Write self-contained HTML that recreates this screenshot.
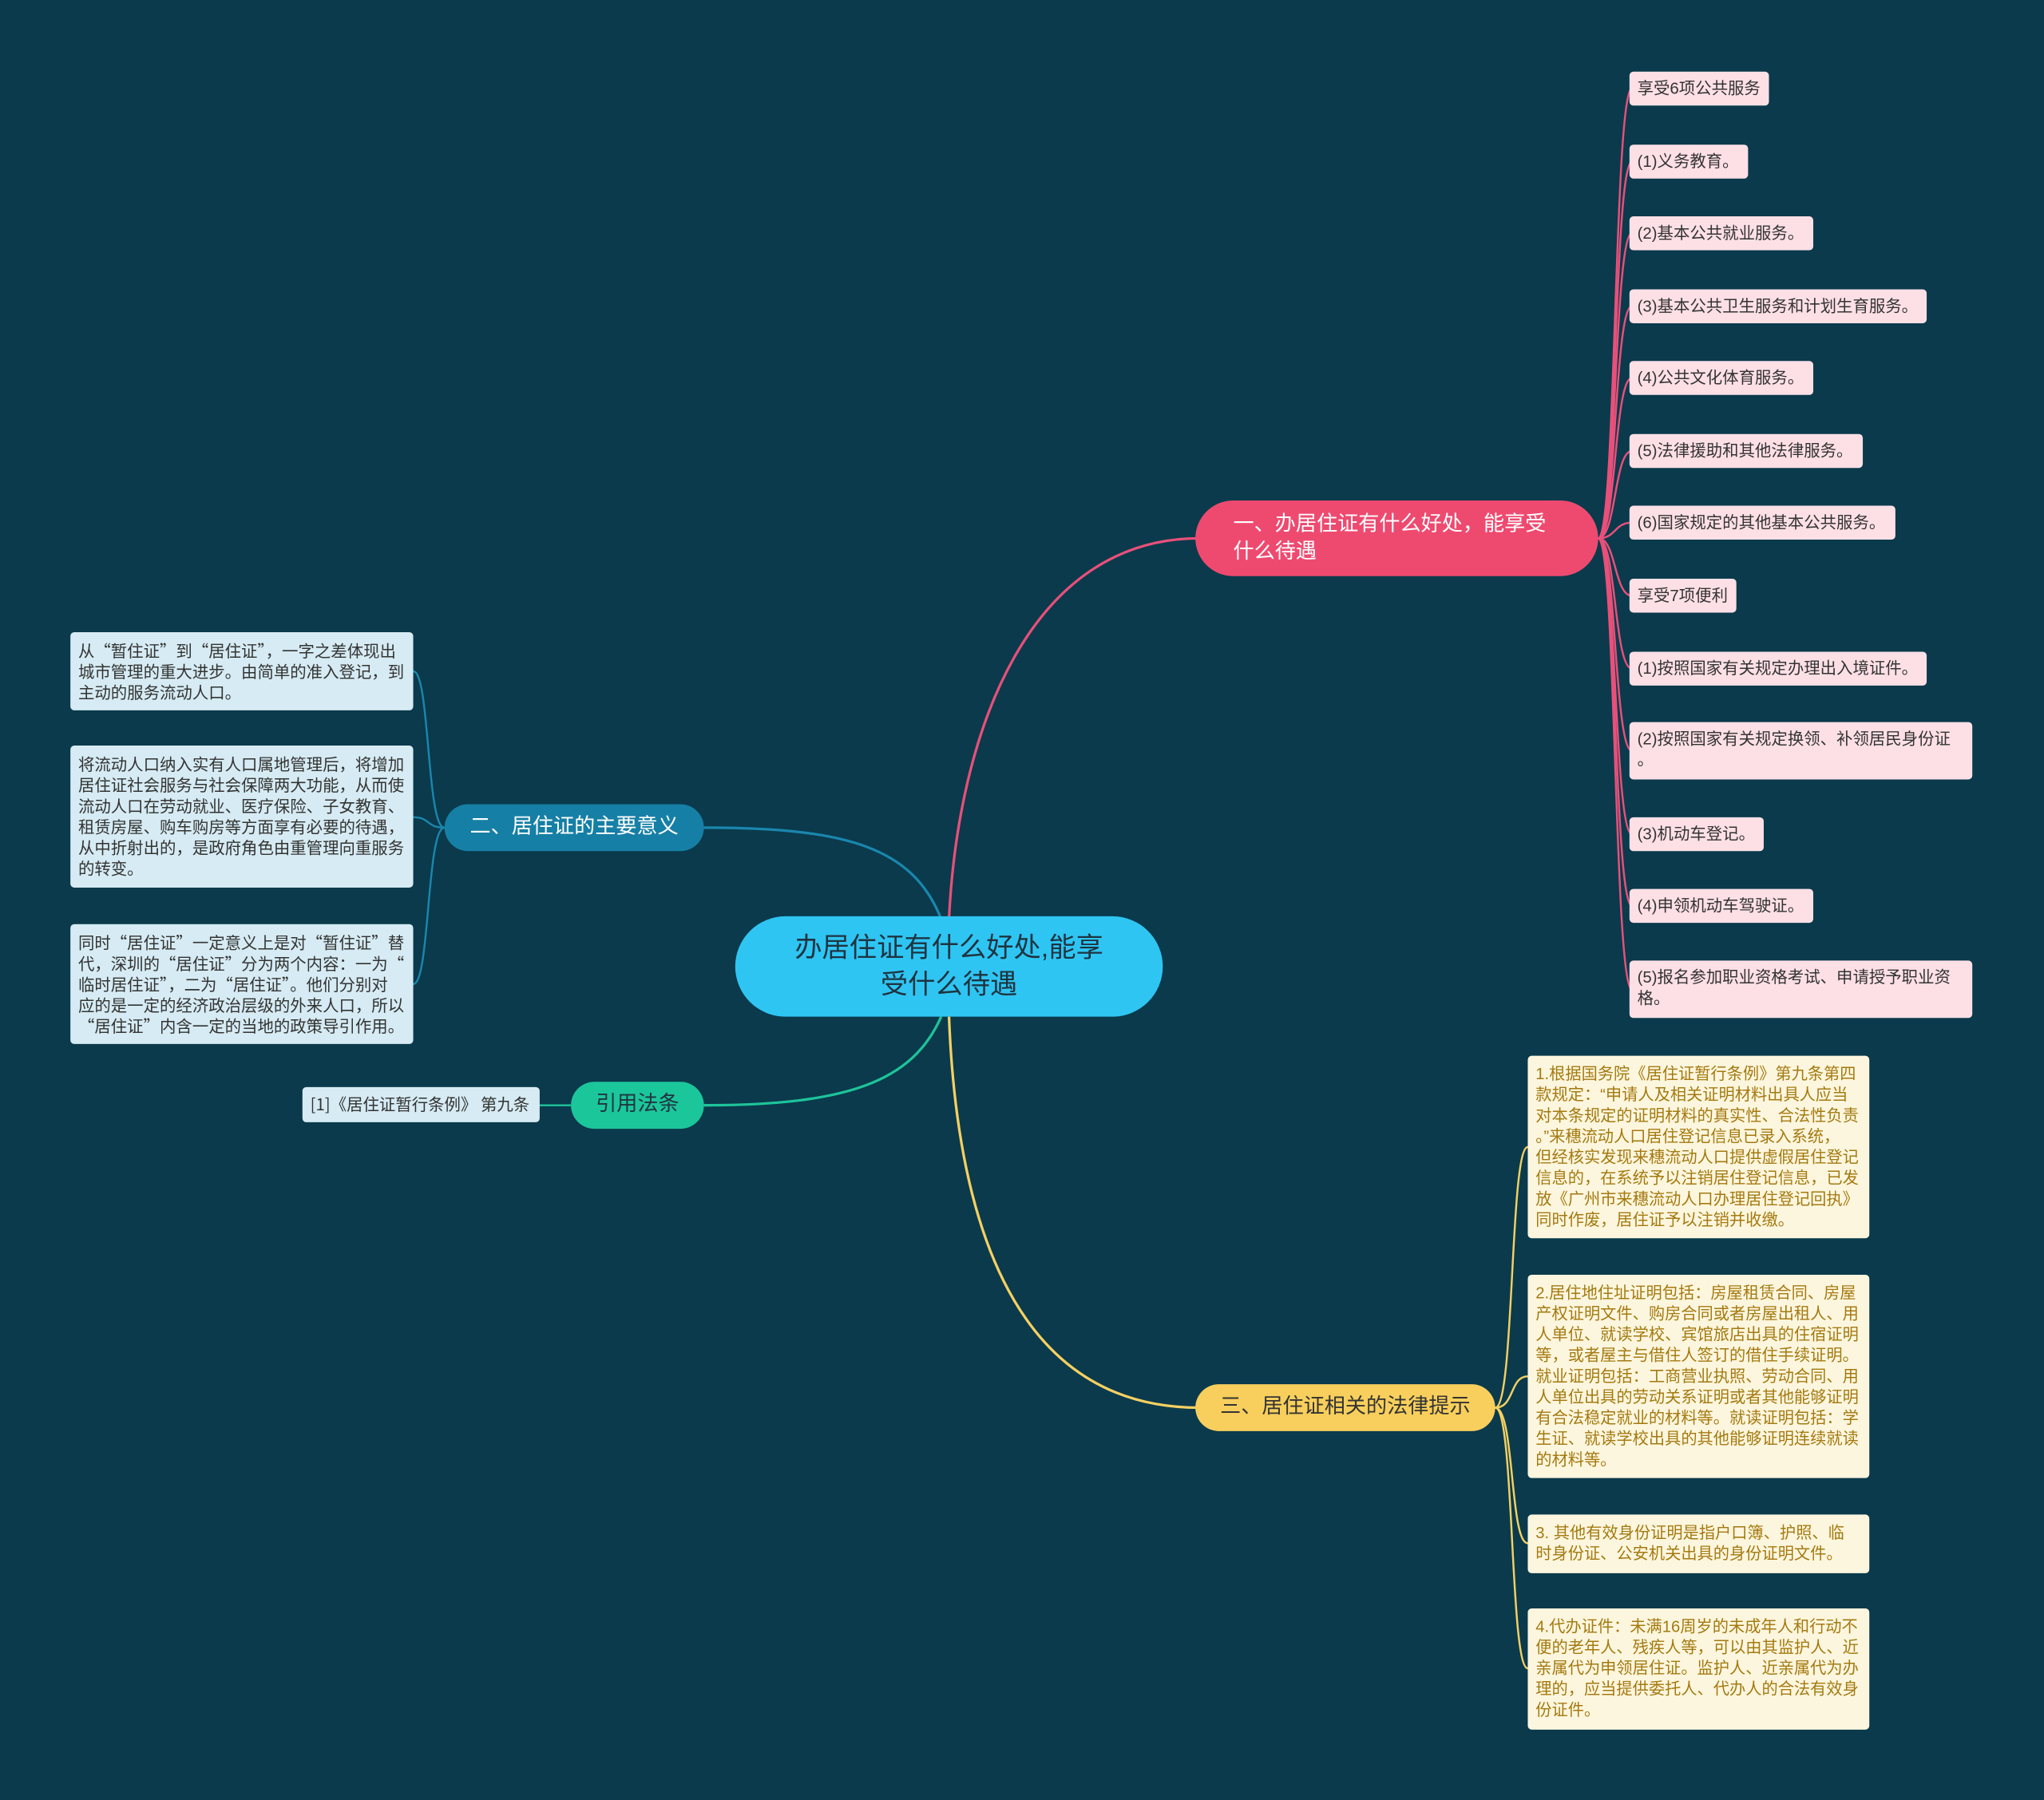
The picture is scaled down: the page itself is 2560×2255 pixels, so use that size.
<!DOCTYPE html>
<html><head><meta charset="utf-8">
<style>
html,body{margin:0;padding:0;background:#0a3a4c;}
body{width:2560px;height:2255px;overflow:hidden;position:relative;}
#w{position:absolute;left:0;top:0;width:1568px;height:1381px;transform:scale(1.63265,1.63288);transform-origin:0 0;font-family:"Liberation Sans","Noto Sans CJK SC",sans-serif;}
.n{position:absolute;box-sizing:border-box;white-space:nowrap;}
.p{background:#fde0e6;color:#333;font-size:12.5px;line-height:16px;padding:5px 6px;border-radius:3px;}
.b{background:#d6ebf3;color:#333;font-size:12.5px;line-height:16px;padding:6px 6px;border-radius:3px;font-family:"Noto Sans CJK SC",sans-serif;}
.y{background:#fdf6de;color:#a47a10;font-size:12.4px;line-height:16px;padding:6px 6px;border-radius:3px;overflow:hidden;}
</style></head><body><div id="w">
<svg width="1568" height="1381" style="position:absolute;left:0;top:0" fill="none">
<path d="M728 705 C 735 560, 790 413, 920 413" stroke="#e8507a" stroke-width="2"/>
<path d="M722 705 C 700 650, 650 635, 540 635" stroke="#1a86ad" stroke-width="2"/>
<path d="M722 780 C 700 830, 650 848, 540 848" stroke="#1ec49a" stroke-width="2"/>
<path d="M728 780 C 735 960, 790 1080, 920 1080" stroke="#f5d062" stroke-width="2"/>
<g stroke="#e8507a" stroke-width="1.5">
<path d="M1226 413 C1240 413,1238 68,1252 68"/><path d="M1226 413 C1240 413,1238 124,1252 124"/>
<path d="M1226 413 C1240 413,1238 179,1252 179"/><path d="M1226 413 C1240 413,1238 235,1252 235"/>
<path d="M1226 413 C1240 413,1238 290,1252 290"/><path d="M1226 413 C1240 413,1238 346,1252 346"/>
<path d="M1226 413 C1240 413,1238 401,1252 401"/><path d="M1226 413 C1240 413,1238 457,1252 457"/>
<path d="M1226 413 C1240 413,1238 513,1252 513"/><path d="M1226 413 C1240 413,1238 576,1252 576"/>
<path d="M1226 413 C1240 413,1238 640,1252 640"/><path d="M1226 413 C1240 413,1238 695,1252 695"/>
<path d="M1226 413 C1240 413,1238 759,1252 759"/>
</g>
<g stroke="#1a86ad" stroke-width="1.5">
<path d="M341 635 C327 635,330 515,317 515"/><path d="M341 635 C327 635,330 627,317 627"/><path d="M341 635 C327 635,330 755,317 755"/>
</g>
<path d="M438 848 L414 848" stroke="#1ec49a" stroke-width="1.5"/>
<g stroke="#f5d062" stroke-width="1.5">
<path d="M1147 1080 C1162 1080,1158 880,1172 880"/><path d="M1147 1080 C1162 1080,1158 1056,1172 1056"/>
<path d="M1147 1080 C1162 1080,1158 1184,1172 1184"/><path d="M1147 1080 C1162 1080,1158 1280,1172 1280"/>
</g>
</svg>
<div class="n" style="left:564px;top:703px;width:328px;height:77px;border-radius:39px;background:#2fc5f3;color:#1e3440;font-size:21px;line-height:28px;text-align:center;padding-top:11px;">办居住证有什么好处,能享<br>受什么待遇</div>
<div class="n" style="left:917px;top:384px;width:309px;height:58px;border-radius:29px;background:#ee4a70;color:#fff;font-size:16px;line-height:21px;padding:8px 0 0 29px;">一、办居住证有什么好处，能享受<br>什么待遇</div>
<div class="n" style="left:341px;top:617px;width:199px;height:36px;border-radius:18px;background:#167fa5;color:#fff;font-size:16px;line-height:36px;text-align:center;">二、居住证的主要意义</div>
<div class="n" style="left:438px;top:830px;width:102px;height:36px;border-radius:18px;background:#1cc69b;color:#1e3440;font-size:16px;line-height:36px;text-align:center;">引用法条</div>
<div class="n" style="left:917px;top:1062px;width:230px;height:36px;border-radius:18px;background:#f8cf5c;color:#333;font-size:16px;line-height:36px;text-align:center;">三、居住证相关的法律提示</div>

<div class="n p" style="left:1250px;top:55px;width:107px;">享受6项公共服务</div>
<div class="n p" style="left:1250px;top:111px;width:91px;">(1)义务教育。</div>
<div class="n p" style="left:1250px;top:166px;width:141px;">(2)基本公共就业服务。</div>
<div class="n p" style="left:1250px;top:222px;width:228px;">(3)基本公共卫生服务和计划生育服务。</div>
<div class="n p" style="left:1250px;top:277px;width:141px;">(4)公共文化体育服务。</div>
<div class="n p" style="left:1250px;top:333px;width:179px;">(5)法律援助和其他法律服务。</div>
<div class="n p" style="left:1250px;top:388px;width:204px;">(6)国家规定的其他基本公共服务。</div>
<div class="n p" style="left:1250px;top:444px;width:82px;">享受7项便利</div>
<div class="n p" style="left:1250px;top:500px;width:228px;">(1)按照国家有关规定办理出入境证件。</div>
<div class="n p" style="left:1250px;top:554px;width:263px;height:44px;">(2)按照国家有关规定换领、补领居民身份证<br>。</div>
<div class="n p" style="left:1250px;top:627px;width:103px;">(3)机动车登记。</div>
<div class="n p" style="left:1250px;top:682px;width:141px;">(4)申领机动车驾驶证。</div>
<div class="n p" style="left:1250px;top:737px;width:263px;height:44px;">(5)报名参加职业资格考试、申请授予职业资<br>格。</div>

<div class="n b" style="left:54px;top:485px;width:263px;height:60px;">从“暂住证”到“居住证”，一字之差体现出<br>城市管理的重大进步。由简单的准入登记，到<br>主动的服务流动人口。</div>
<div class="n b" style="left:54px;top:572px;width:263px;height:109px;">将流动人口纳入实有人口属地管理后，将增加<br>居住证社会服务与社会保障两大功能，从而使<br>流动人口在劳动就业、医疗保险、子女教育、<br>租赁房屋、购车购房等方面享有必要的待遇，<br>从中折射出的，是政府角色由重管理向重服务<br>的转变。</div>
<div class="n b" style="left:54px;top:709px;width:263px;height:92px;">同时“居住证”一定意义上是对“暂住证”替<br>代，深圳的“居住证”分为两个内容：一为“<br>临时居住证”，二为“居住证”。他们分别对<br>应的是一定的经济政治层级的外来人口，所以<br>“居住证”内含一定的当地的政策导引作用。</div>
<div class="n b" style="left:232px;top:834px;width:182px;height:27px;padding:5px 6px;">[1]《居住证暂行条例》 第九条</div>

<div class="n y" style="left:1172px;top:810px;width:262px;height:140px;">1.根据国务院《居住证暂行条例》第九条第四<br>款规定：“申请人及相关证明材料出具人应当<br>对本条规定的证明材料的真实性、合法性负责<br>。”来穗流动人口居住登记信息已录入系统，<br>但经核实发现来穗流动人口提供虚假居住登记<br>信息的，在系统予以注销居住登记信息，已发<br>放《广州市来穗流动人口办理居住登记回执》<br>同时作废，居住证予以注销并收缴。</div>
<div class="n y" style="left:1172px;top:978px;width:262px;height:156px;">2.居住地住址证明包括：房屋租赁合同、房屋<br>产权证明文件、购房合同或者房屋出租人、用<br>人单位、就读学校、宾馆旅店出具的住宿证明<br>等，或者屋主与借住人签订的借住手续证明。<br>就业证明包括：工商营业执照、劳动合同、用<br>人单位出具的劳动关系证明或者其他能够证明<br>有合法稳定就业的材料等。就读证明包括：学<br>生证、就读学校出具的其他能够证明连续就读<br>的材料等。</div>
<div class="n y" style="left:1172px;top:1162px;width:262px;height:45px;">3. 其他有效身份证明是指户口簿、护照、临<br>时身份证、公安机关出具的身份证明文件。</div>
<div class="n y" style="left:1172px;top:1234px;width:262px;height:93px;">4.代办证件：未满16周岁的未成年人和行动不<br>便的老年人、残疾人等，可以由其监护人、近<br>亲属代为申领居住证。监护人、近亲属代为办<br>理的，应当提供委托人、代办人的合法有效身<br>份证件。</div>
</div></body></html>
